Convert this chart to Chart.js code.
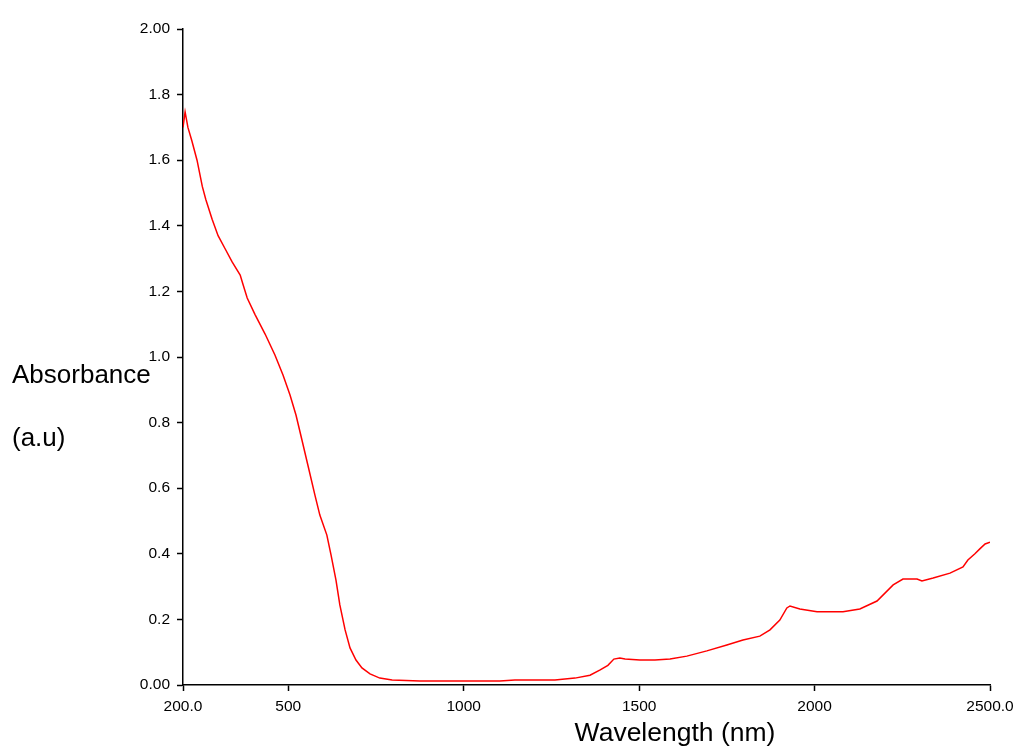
<!DOCTYPE html>
<html>
<head>
<meta charset="utf-8">
<script src="https://cdn.jsdelivr.net/npm/chart.js@4/dist/chart.umd.min.js"></script>
<style>
  body { margin: 0; background: #fff; }
  #wrap { width: 1016px; height: 746px; }
</style>
</head>
<body>
<div id="wrap"><canvas id="chart-one" width="1016" height="746"></canvas></div>
<script>
// spectrum
const wavelengths = [200, 206, 214, 225, 240, 255, 265, 283, 300, 320, 340, 363, 370, 383, 405, 434, 462, 485, 505, 522, 539, 556, 576, 590, 610, 622, 636, 647, 662, 676, 693, 710, 733, 761, 796, 875, 1103, 1146, 1260, 1317, 1360, 1389, 1411, 1428, 1445, 1460, 1502, 1545, 1588, 1636, 1693, 1750, 1796, 1844, 1873, 1901, 1921, 1930, 1958, 2007, 2081, 2129, 2178, 2224, 2252, 2292, 2306, 2338, 2386, 2423, 2437, 2457, 2471, 2486, 2500];
const absorbance = [1.70, 1.747, 1.70, 1.66, 1.60, 1.52, 1.48, 1.42, 1.37, 1.33, 1.29, 1.25, 1.225, 1.18, 1.13, 1.07, 1.006, 0.945, 0.884, 0.823, 0.747, 0.67, 0.579, 0.518, 0.457, 0.396, 0.32, 0.244, 0.168, 0.113, 0.076, 0.052, 0.034, 0.021, 0.015, 0.012, 0.012, 0.015, 0.015, 0.021, 0.03, 0.046, 0.06, 0.079, 0.082, 0.079, 0.076, 0.076, 0.079, 0.088, 0.104, 0.122, 0.137, 0.149, 0.168, 0.198, 0.235, 0.241, 0.232, 0.223, 0.223, 0.232, 0.256, 0.305, 0.323, 0.323, 0.317, 0.326, 0.341, 0.360, 0.381, 0.40, 0.415, 0.43, 0.435];
const xTicks = [200, 500, 1000, 1500, 2000, 2500];
const yTicks = [0, 0.2, 0.4, 0.6, 0.8, 1.0, 1.2, 1.4, 1.6, 1.8, 2.0];

const FONT = '"Liberation Sans", Arial, sans-serif';

// axis titles drawn flat, like the original
const titlesPlugin = {
    id: 'titles',
    afterDraw(chart) {
        const c = chart.ctx;
        c.save();
        c.fillStyle = '#000';
        c.font = '26px ' + FONT;
        c.textBaseline = 'alphabetic';
        c.textAlign = 'left';
        c.fillText('Absorbance', 12, 383);
        c.fillText('(a.u)', 12, 446);
        c.font = '26.5px ' + FONT;
        c.textAlign = 'center';
        c.fillText('Wavelength (nm)', 675, 741);
        c.restore();
    }
};

const ctx = document.getElementById('chart-one').getContext('2d');

new Chart(ctx, {
    type: 'line',
    data: {
        datasets: [{
            data: wavelengths.map((w, i) => ({ x: w, y: absorbance[i] })),
            borderColor: '#ff0000',
            borderWidth: 1.5,
            pointRadius: 0,
            tension: 0,
            fill: false
        }]
    },
    options: {
        responsive: false,
        animation: false,
        layout: { padding: { top: 29, right: 26, left: 0, bottom: 0 } },
        plugins: { legend: { display: false }, tooltip: { enabled: false } },
        scales: {
            x: {
                type: 'linear',
                min: 200,
                max: 2500,
                afterBuildTicks(scale) { scale.ticks = xTicks.map(v => ({ value: v })); },
                afterFit(scale) {
                    scale.height = 61;
                    scale.paddingLeft = 0;
                    scale.paddingRight = 0;
                },
                border: { color: '#000', width: 1.5 },
                grid: { drawOnChartArea: false, drawTicks: true, tickLength: 6, tickColor: '#000', tickWidth: 1.5 },
                ticks: {
                    color: '#000',
                    font: { family: FONT, size: 15.5 },
                    padding: 6,
                    maxRotation: 0,
                    callback: v => (v === 200 || v === 2500) ? v.toFixed(1) : String(v)
                }
            },
            y: {
                min: 0,
                max: 2,
                afterBuildTicks(scale) { scale.ticks = yTicks.map(v => ({ value: v })); },
                afterFit(scale) {
                    scale.width = 183;
                    scale.paddingTop = 0;
                    scale.paddingBottom = 0;
                },
                border: { color: '#000', width: 1.5 },
                grid: { drawOnChartArea: false, drawTicks: true, tickLength: 6, tickColor: '#000', tickWidth: 1.5 },
                ticks: {
                    color: '#000',
                    font: { family: FONT, size: 15.5 },
                    padding: 7,
                    callback: v => (v === 0 || v === 2) ? v.toFixed(2) : v.toFixed(1)
                }
            }
        }
    },
    plugins: [titlesPlugin]
});
</script>
</body>
</html>
